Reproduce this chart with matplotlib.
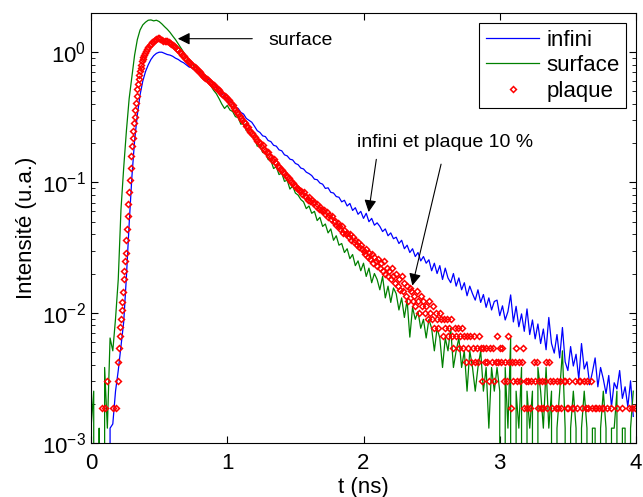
import numpy as np
import matplotlib
matplotlib.use('Agg')
import matplotlib.pyplot as plt

plt.rcParams['font.family'] = ['Liberation Sans', 'DejaVu Sans']

# pas de temps (ns)
dt = 0.02

# infini (courbe bleue) : 0 -> 1.00 ns, puis 1.02 -> 1.98, 2.00 -> 2.98, 3.00 -> 3.98
infini_a = [0, 0, 0, 0, 0, 0, 0, 0.0013, 0.0014, 0.0025, 0.0036, 0.0055, 0.0085, 0.019, 0.048,
            0.11, 0.21, 0.33, 0.47, 0.60, 0.71, 0.80, 0.88, 0.94, 0.98, 1.00, 1.00, 0.98, 0.96,
            0.95, 0.93, 0.90, 0.88, 0.85, 0.83, 0.80, 0.77, 0.76, 0.73, 0.72, 0.69, 0.67, 0.64,
            0.62, 0.60, 0.57, 0.54, 0.51, 0.48, 0.46, 0.44]
infini_b = [0.42, 0.405, 0.38, 0.37, 0.345, 0.335, 0.31, 0.30, 0.29, 0.27, 0.25,
            0.242, 0.228, 0.225, 0.21, 0.206, 0.193, 0.19, 0.178, 0.175, 0.163, 0.16, 0.151,
            0.149, 0.140, 0.137, 0.129, 0.127, 0.120, 0.117, 0.113, 0.106, 0.105, 0.099, 0.097,
            0.090, 0.091, 0.084, 0.083, 0.078, 0.077, 0.071,
            0.073, 0.066, 0.069, 0.061, 0.064, 0.057, 0.060]
infini_c = [0.053, 0.058, 0.050, 0.053, 0.047, 0.049, 0.046, 0.042, 0.044, 0.039, 0.041, 0.037,
            0.038, 0.034, 0.036, 0.031, 0.033, 0.029, 0.031, 0.027, 0.029, 0.025, 0.027, 0.024,
            0.0255, 0.021, 0.024, 0.020, 0.023, 0.018, 0.022, 0.0185, 0.017, 0.020, 0.016, 0.0185,
            0.015, 0.017, 0.0135, 0.016, 0.014, 0.0125, 0.015, 0.012, 0.0138, 0.011, 0.013, 0.0105,
            0.0122, 0.0125]
infini_d = [0.0095, 0.0113, 0.0088, 0.0102, 0.0137, 0.0085, 0.0112, 0.0078, 0.0098, 0.0072,
            0.0107, 0.0068, 0.0088, 0.0063, 0.0082, 0.0058, 0.0075, 0.0052, 0.0092, 0.0058,
            0.0049, 0.0068, 0.0045, 0.0077, 0.0042, 0.0036, 0.0055, 0.0039, 0.0048, 0.0031,
            0.0058, 0.0037, 0.0042, 0.0028, 0.0035, 0.0045, 0.0027, 0.0038, 0.0031, 0.0024,
            0.0033, 0.0019, 0.0029, 0.0026, 0.0036, 0.0022, 0.0027, 0.0019, 0.0030, 0.0016]

# surface (courbe verte)
surface_a = [0.0013, 0.0025, 0, 0.0013, 0, 0.0038, 0.0013, 0.0064, 0.0051, 0.009, 0.018, 0.062,
             0.13, 0.25, 0.44, 0.65, 0.95, 1.25, 1.48, 1.62, 1.70, 1.76, 1.77, 1.74, 1.76, 1.72,
             1.65, 1.57, 1.50, 1.42, 1.33, 1.25, 1.16, 1.08, 1.00, 0.92, 0.86, 0.82, 0.78, 0.75,
             0.72, 0.69, 0.64, 0.59, 0.55, 0.51, 0.48, 0.44, 0.40, 0.37, 0.39]
surface_b = [0.36, 0.35, 0.32, 0.315, 0.28, 0.285, 0.25, 0.245, 0.225, 0.22, 0.19, 0.192, 0.17,
             0.168, 0.15, 0.148, 0.128, 0.132, 0.115, 0.118, 0.102, 0.104, 0.089, 0.094, 0.083,
             0.080, 0.074, 0.071, 0.063, 0.066, 0.058, 0.060, 0.051, 0.054, 0.046, 0.048, 0.041,
             0.044, 0.036, 0.039, 0.033, 0.034, 0.029, 0.031, 0.026, 0.028, 0.023, 0.025, 0.021]
surface_c = [0.024, 0.019, 0.022, 0.017, 0.020, 0.018, 0.015, 0.019, 0.013, 0.016, 0.012, 0.0155,
             0.014, 0.0105, 0.013, 0.0092, 0.0125, 0.0065, 0.011, 0.0089, 0.0102, 0.0076, 0.0089,
             0.0064, 0.0089, 0.0076, 0.0051, 0.0076, 0.0064, 0.0038, 0.0064, 0.0051, 0.0076,
             0.0038, 0.0051, 0.0064, 0.0038, 0.0051, 0.0025, 0.0051, 0.0038, 0.0025, 0.0038,
             0.0051, 0.0025, 0.0038, 0.0013, 0.0038, 0.0025, 0.0038]
surface_d = [0.0025, 0, 0.0038, 0.0013, 0.0064, 0, 0.0025, 0.0013, 0.0038, 0, 0.0025, 0.0013,
             0.0025, 0, 0.0038, 0.0025, 0.0013, 0.0038, 0.0013, 0.0025, 0, 0.0013, 0.0025, 0.0051,
             0.0013, 0, 0.0013, 0.0025, 0.0013, 0, 0.0013, 0.0025, 0.0013, 0, 0.0013, 0.0013, 0,
             0.0013, 0.0025, 0.0013, 0, 0.0013, 0.0013, 0.0025, 0, 0.0013, 0.0013, 0, 0.0013, 0.0025]

# plaque (marqueurs rouges)
# debut : 0 -> 0.18 (pas 0.02), montee : 0.195 -> 0.395 (pas 0.005), reste : 0.40 -> 3.99 (pas 0.01)
plaque_debut = [0.00068, 0.00068, 0.00068, 0.00068, 0.00185, 0.00185, 0.0030, 0.00068, 0.00185, 0.00185]
plaque_montee = [0.0030, 0.0042, 0.0054, 0.0066, 0.0078, 0.0090, 0.0105, 0.012, 0.0145, 0.018,
                 0.021, 0.025, 0.029, 0.036, 0.044, 0.055, 0.068, 0.085, 0.105, 0.13, 0.16, 0.19,
                 0.22, 0.25, 0.285, 0.32, 0.36, 0.41, 0.46, 0.52, 0.57, 0.62, 0.67, 0.72, 0.76,
                 0.80, 0.85, 0.89, 0.92, 0.96, 0.99]
plaque_a = [1.02, 1.06, 1.10, 1.13, 1.16, 1.19, 1.22, 1.24, 1.27, 1.28, 1.28, 1.26, 1.25, 1.23,
            1.22, 1.22, 1.21, 1.19, 1.17, 1.15, 1.13, 1.11, 1.09, 1.06, 1.04, 1.01, 0.99, 0.96,
            0.94, 0.91, 0.89, 0.86, 0.84, 0.82, 0.80, 0.785, 0.77, 0.75, 0.73, 0.715, 0.70, 0.68,
            0.66, 0.645, 0.63, 0.62, 0.61, 0.595, 0.58, 0.57, 0.56, 0.545, 0.53, 0.52, 0.51, 0.495,
            0.48, 0.47, 0.46, 0.45, 0.44]
plaque_b = [0.43, 0.415, 0.40, 0.39, 0.375, 0.36, 0.345, 0.335, 0.325, 0.31,
            0.30, 0.29, 0.285, 0.27, 0.265, 0.255, 0.245, 0.24, 0.23, 0.225,
            0.215, 0.21, 0.205, 0.20, 0.19, 0.195, 0.18, 0.175, 0.17, 0.172,
            0.16, 0.158, 0.15, 0.152, 0.143, 0.14, 0.134, 0.132, 0.127, 0.125,
            0.12, 0.118, 0.115, 0.11, 0.108, 0.104, 0.101, 0.099, 0.095, 0.094,
            0.091, 0.089, 0.087, 0.086, 0.082, 0.084, 0.079, 0.078, 0.074, 0.077,
            0.072, 0.073, 0.069, 0.071, 0.066, 0.068, 0.063, 0.065, 0.062, 0.060,
            0.061, 0.057, 0.059, 0.054, 0.056, 0.052, 0.055, 0.050, 0.051, 0.047,
            0.049, 0.046, 0.044, 0.046, 0.041, 0.043, 0.040, 0.041, 0.038, 0.040,
            0.036, 0.038, 0.035, 0.036, 0.033, 0.035, 0.032, 0.033, 0.031]
plaque_c = [0.030, 0.028, 0.031, 0.027, 0.029, 0.026, 0.028, 0.024, 0.027, 0.025,
            0.023, 0.026, 0.022, 0.024, 0.021, 0.025, 0.020, 0.022, 0.019, 0.021,
            0.018, 0.022, 0.019, 0.017, 0.020, 0.016, 0.018, 0.015, 0.019, 0.0146,
            0.017, 0.0135, 0.016, 0.0124, 0.0155, 0.0146, 0.0124, 0.0135, 0.0112, 0.0146,
            0.0124, 0.0100, 0.0135, 0.0112, 0.0124, 0.0100, 0.0112, 0.0089, 0.0124, 0.0100,
            0.0089, 0.0112, 0.0077, 0.0100, 0.0089, 0.0077, 0.0100, 0.0089, 0.0066, 0.0089,
            0.0077, 0.0089, 0.0066, 0.0077, 0.0089, 0.0066, 0.0054, 0.0077, 0.0066, 0.0077,
            0.0054, 0.0066, 0.0077, 0.0054, 0.0066, 0.0042, 0.0066, 0.0054, 0.0066, 0.0042,
            0.0054, 0.0066, 0.0042, 0.0054, 0.0042, 0.0066, 0.0054, 0.0030, 0.0054, 0.0042,
            0.0054, 0.0042, 0.0030, 0.0054, 0.0042, 0.0054, 0.0030, 0.0042, 0.0066, 0.0042]
plaque_d = [0.0054, 0.0042, 0.0054, 0.0030, 0.0042, 0.0030, 0.0066, 0.0042, 0.00185, 0.0042,
            0.0030, 0.0042, 0.0054, 0.0030, 0.0042, 0.0030, 0.0042, 0.0054, 0.00185, 0.0030,
            0.00185, 0.0030, 0.00185, 0.0030, 0.00068, 0.0042, 0.0030, 0.0042, 0.00185, 0.0030,
            0.00185, 0.0030, 0.00185, 0.0030, 0.0042, 0.00185, 0.0042, 0.0030, 0.00185, 0.0030,
            0.00068, 0.00185, 0.0030, 0.00185, 0.0030, 0.00185, 0.00068, 0.0030, 0.0030, 0.00185,
            0.00185, 0.0030, 0.00068, 0.00185, 0.00185, 0.0030, 0.00068, 0.00185, 0.0030, 0.0030,
            0.00185, 0.00068, 0.0030, 0.00185, 0.0030, 0.00185, 0.00068, 0.0030, 0.00185, 0.00068,
            0.00185, 0.00185, 0.00068, 0.00185, 0.00068, 0.00185, 0.00185, 0.00068, 0.00068, 0.00185,
            0.00068, 0.00068, 0.00185, 0.00068, 0.00068, 0.00068, 0.00185, 0.00068, 0.00068, 0.00068,
            0.00185, 0.00068, 0.00068, 0.00068, 0.00068, 0.00185, 0.00068, 0.00185, 0.00068, 0.00185]

infini = np.concatenate([infini_a, infini_b, infini_c, infini_d])
surface = np.concatenate([surface_a, surface_b, surface_c, surface_d])
t_infini = np.arange(len(infini)) * dt
t_surface = np.arange(len(surface)) * dt

plaque_reste = np.concatenate([plaque_a, plaque_b, plaque_c, plaque_d])
plaque = np.concatenate([plaque_debut, plaque_montee, plaque_reste])
t_plaque = np.concatenate([np.arange(len(plaque_debut)) * dt,
                           0.195 + np.arange(len(plaque_montee)) * 0.005,
                           0.40 + np.arange(len(plaque_reste)) * 0.01])

fig = plt.figure(figsize=(6.43, 4.97), dpi=100)
ax = fig.add_axes([91/643, 1 - 443/497, 545/643, 430/497])

ax.plot(t_infini, infini, color='#0000FF', lw=0.9, label='infini')
ax.plot(t_surface, surface, color='#008000', lw=0.9, label='surface')
ax.plot(t_plaque, plaque, ls='none', marker='D', ms=3.0, mfc='none', mec='red', mew=1.1, label='plaque')

ax.set_yscale('log')
ax.set_xlim(0, 4)
ax.set_ylim(1e-3, 2)
ax.set_xticks([0, 1, 2, 3, 4])
ax.set_xticklabels(['0', '1', '2', '3', '4'])
ax.tick_params(which='both', direction='in', top=True, right=True, labelsize=16)
ax.tick_params(which='major', length=5)
ax.tick_params(which='minor', length=3)
ax.tick_params(axis='x', pad=7)

ax.set_xlabel('t (ns)', fontsize=16, labelpad=2)
ax.set_ylabel('Intensité (u.a.)', fontsize=16)

# annotations
ax.annotate('', xy=(0.617, 1.27), xytext=(1.204, 1.27),
            arrowprops=dict(arrowstyle='-|>', color='k', lw=0.8, mutation_scale=18))
ax.text(1.30, 1.23, 'surface', fontsize=14, va='center')
ax.text(1.952, 0.202, 'infini et plaque 10 %', fontsize=14, va='center')
ax.annotate('', xy=(2.035, 0.0565), xytext=(2.097, 0.158),
            arrowprops=dict(arrowstyle='-|>', color='k', lw=0.8, mutation_scale=18))
ax.annotate('', xy=(2.354, 0.0154), xytext=(2.574, 0.145),
            arrowprops=dict(arrowstyle='-|>', color='k', lw=0.8, mutation_scale=18))

leg = ax.legend(loc='upper right', fontsize=16, fancybox=False, edgecolor='black', framealpha=1,
                numpoints=1, handlelength=2.4, handletextpad=0.3, labelspacing=0.2,
                borderaxespad=0.45, borderpad=0.3)
leg.get_frame().set_linewidth(0.8)

plt.savefig('out.png', dpi=100)
